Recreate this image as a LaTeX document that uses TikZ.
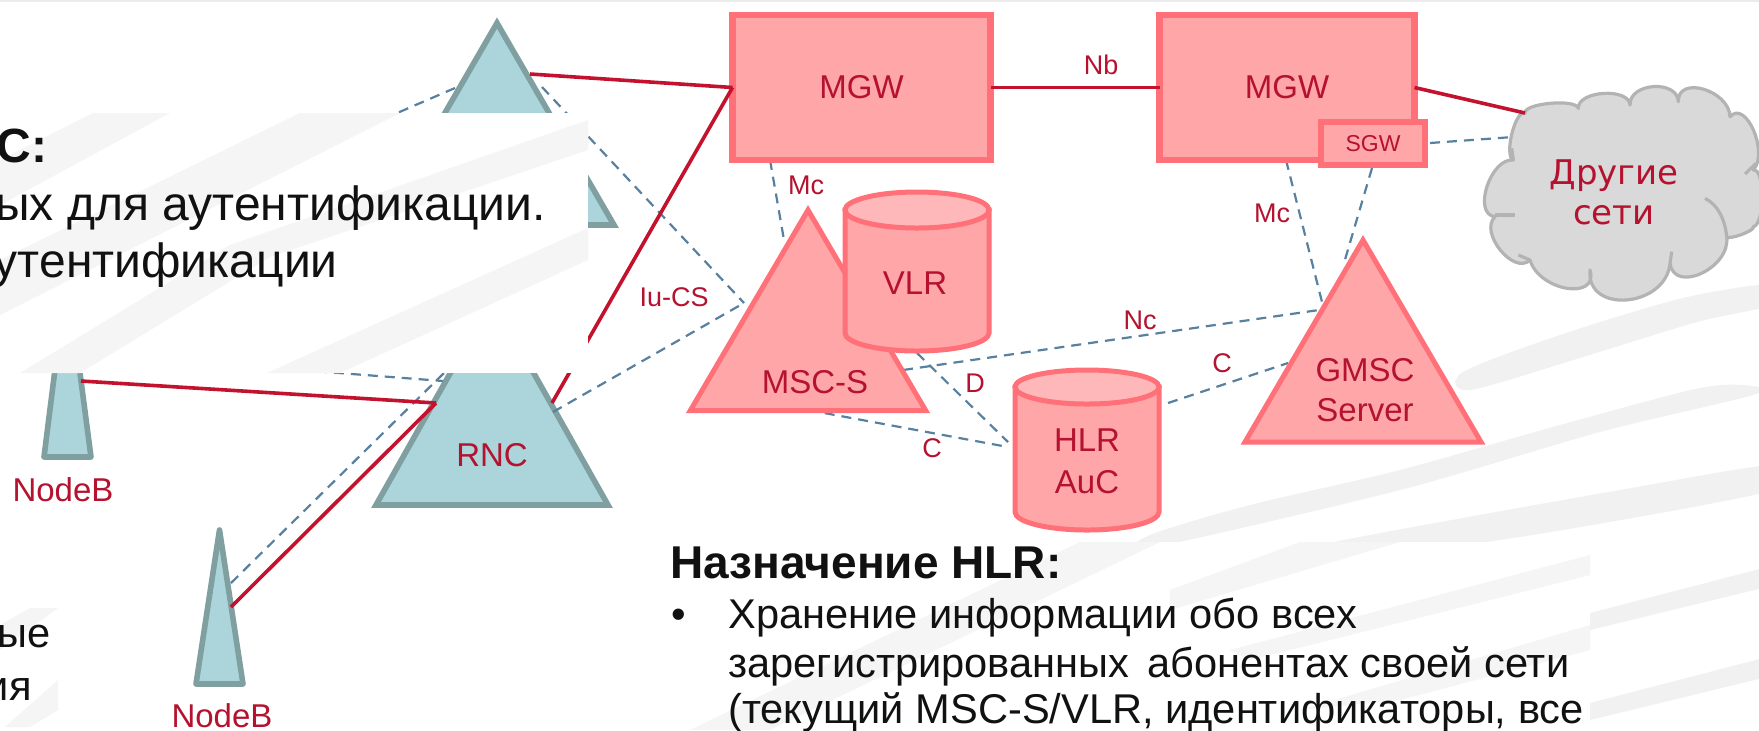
\documentclass[tikz,border=0pt]{standalone}
\usepackage{fontspec}
\setmainfont{Liberation Sans}
\newfontfamily\cloudfont{DejaVu Sans}
\definecolor{bandc}{HTML}{F1F1F1}
\definecolor{bandl}{HTML}{F5F5F5}
\definecolor{tealf}{HTML}{ABD5DB}
\definecolor{teald}{HTML}{7F9FA0}
\definecolor{pinkf}{HTML}{FFA6A8}
\definecolor{pinkt}{HTML}{FFB8B9}
\definecolor{pinkd}{HTML}{FF7078}
\definecolor{redl}{HTML}{C3122E}
\definecolor{dashc}{HTML}{58809F}
\definecolor{labc}{HTML}{B4122F}
\definecolor{cloudf}{HTML}{D9D9D9}
\definecolor{cloudd}{HTML}{B3B3B3}
\definecolor{txt}{HTML}{111111}
\tikzset{
  link/.style={draw=redl,line width=1.8pt},
  dlink/.style={draw=dashc,line width=1.1pt,dash pattern=on 5pt off 3.5pt},
  tealshape/.style={draw=teald,fill=tealf,line width=2.8pt},
  pinkshape/.style={draw=pinkd,fill=pinkf,line width=2.5pt},
  pinkbox/.style={rectangle,draw=pinkd,fill=pinkf,line width=3.3pt,inner sep=0pt,outer sep=0pt,text=labc,font=\fontsize{16.5}{20}\selectfont},
  biglab/.style={text=labc,font=\fontsize{16.5}{20}\selectfont,inner sep=0pt,align=center},
  smalllab/.style={text=labc,font=\fontsize{13.5}{16}\selectfont,inner sep=0pt},
  bodytxt/.style={text=txt,font=\fontsize{20.8}{25}\selectfont,inner sep=0pt,anchor=base west},
  sheettxt/.style={text=txt,font=\fontsize{24}{28}\selectfont,inner sep=0pt,anchor=base east},
  headtxt/.style={text=txt,font=\fontsize{23}{26}\bfseries\selectfont,inner sep=0pt,anchor=base west},
  band/.style={fill=bandc,draw=none},
  lband/.style={fill=bandl,draw=none},
  sheet/.style={fill=white,draw=none}
}
\begin{document}
\begin{tikzpicture}[x=0.5pt,y=-0.5pt]
\useasboundingbox (0,0) rectangle (1759,730);
\clip (0,0) rectangle (1759,730);
\fill[white] (0,0) rectangle (1759,730);
\fill[black!8] (0,0) rectangle (1759,2);
% background bands
\fill[band] plot[smooth cycle,tension=.5] coordinates {(1775,284) (1683,298) (1560,335) (1463,372) (1470,390) (1583,357) (1697,322) (1775,304)};
\fill[band] plot[smooth cycle,tension=.5] coordinates {(1753,386) (1700,388) (1560,425) (1400,470) (1250,505) (1150,535) (1150,548) (1400,490) (1600,432) (1753,395)};
\fill[band] plot[smooth cycle,tension=.5] coordinates {(1775,465) (1620,490) (1370,535) (1250,560) (1290,562) (1500,540) (1775,490)};
\fill[band] (1775,565) -- (1590,613) -- (1590,630) -- (1775,585) -- cycle;
\fill[band] (1775,655) -- (1590,703) -- (1590,720) -- (1775,675) -- cycle;
% connector ends
\coordinate (r1L) at (455,88);
\coordinate (r1Lx) at (300,155);
\coordinate (r1R) at (530,74);
\coordinate (r1D) at (542,87);
\coordinate (mscIu) at (744,303);
\coordinate (mscUp) at (784,240);
\coordinate (mgw1Mc) at (770,160);
\coordinate (r2R) at (552,403);
\coordinate (r2D) at (553,412);
\coordinate (r2L) at (436,403);
\coordinate (r2Lu) at (445,372);
\coordinate (r2Lw) at (443,381);
\coordinate (nbLr) at (81,381);
\coordinate (nbLx) at (300,370);
\coordinate (nbSr) at (231,607);
\coordinate (nbSd) at (231,583);
\coordinate (mgw2Mc) at (1286,160);
\coordinate (sgwD) at (1372,168);
\coordinate (gmUp) at (1344,263);
\coordinate (gmMc) at (1322,302);
\coordinate (gmNc) at (1319,310);
\coordinate (gmC) at (1288,363);
\coordinate (mscNc) at (903,370);
\coordinate (vlrD) at (917,353);
\coordinate (hlrD) at (1008,442);
\coordinate (hlrC) at (1008,447);
\coordinate (mscC) at (808,410);
\coordinate (hlrR) at (1168,403);
\coordinate (sgwR) at (1430,143);
\coordinate (clD) at (1513,137);
\coordinate (clS) at (1525,113);

% teal triangles
\path[tealshape] (497,23) -- (614,225) -- (380,225) -- cycle;
\path[tealshape] (492,299) -- (608,505) -- (376,505) -- cycle;
\path[tealshape,line join=round] (67,274) -- (91,457) -- (44,457) -- cycle;
\path[tealshape,line join=round] (219.5,530) -- (243,684) -- (196,684) -- cycle;

\draw[dlink] (r1L) -- (r1Lx);
\draw[dlink] (r1D) -- (mscIu);
\draw[dlink] (r2D) -- (mscIu);
\draw[dlink] (nbLx) -- (r2Lw);
\draw[dlink] (nbSd) -- (r2Lu);
\draw[dlink] (mgw1Mc) -- (mscUp);
\draw[dlink] (mgw2Mc) -- (gmMc);
\draw[dlink] (sgwD) -- (gmUp);
\draw[dlink] (mscNc) -- (gmNc);
\draw[dlink] (vlrD) -- (hlrD);
\draw[dlink] (mscC) -- (hlrC);
\draw[dlink] (hlrR) -- (gmC);
\draw[dlink] (sgwR) -- (clD);

\node[pinkbox,minimum width=129pt,minimum height=72.5pt] (mgwa) at (861.5,87.5) {MGW};
\node[pinkbox,minimum width=127.5pt,minimum height=72.5pt] (mgwb) at (1287,87.5) {MGW};
\draw[link] (r1R) -- (mgwa.west);
\draw[link] (r2R) -- (mgwa.west);
\draw[link] (mgwa.east) -- (mgwb.west);
\draw[link] (nbLr) -- (r2L);
\draw[link] (nbSr) -- (r2L);

% cloud, drawn in the coordinates of a 3x crop
\begin{scope}[shift={(1470,70)},x=0.16667pt,y=-0.16667pt]
\path[draw=cloudd,fill=cloudf,line width=1.6pt,line join=round]
 (165,130) .. controls (158,100) and (318,85) .. (325,115)
 .. controls (322,62) and (477,52) .. (480,105)
 .. controls (477,38) and (622,28) .. (625,95)
 .. controls (622,15) and (777,60) .. (780,140)
 .. controls (827,87) and (897,247) .. (850,300)
 .. controls (885,293) and (885,463) .. (850,470)
 .. controls (857,481) and (777,511) .. (770,500)
 .. controls (783,593) and (613,673) .. (600,580)
 .. controls (587,713) and (347,733) .. (360,600)
 .. controls (387,693) and (207,663) .. (180,570)
 .. controls (131,617) and (26,487) .. (75,440)
 .. controls (6,433) and (61,263) .. (130,270)
 .. controls (101,257) and (136,117) .. (165,130) -- cycle;
\draw[cloudd,line width=1.6pt] (705,385) .. controls (745,405) and (765,450) .. (770,500);
\draw[cloudd,line width=1.6pt] (75,435) -- (135,435);
\draw[cloudd,line width=1.6pt] (825,312) -- (858,280);
\draw[cloudd,line width=1.6pt] (180,570) -- (145,555);
\draw[cloudd,line width=1.6pt] (600,580) -- (605,545);
\draw[cloudd,line width=1.6pt] (130,270) -- (125,235);
\end{scope}
\node[inner sep=0pt,text=labc,align=center,font=\cloudfont\fontsize{17}{20}\selectfont] (net) at (1614,192) {Другие\\сети};
\draw[link] (mgwb.east) -- (clS);

\node[pinkbox,line width=3pt,minimum width=52pt,minimum height=21.5pt,font=\fontsize{11.5}{14}\selectfont] (sgw) at (1373,143.5) {SGW};

% pink triangles
\path[pinkshape] (808,210) -- (925.7,410.5) -- (690.3,410.5) -- cycle;
\path[pinkshape] (1363,240) -- (1481,442) -- (1245,442) -- cycle;
% VLR
\path[pinkshape] (845,210) -- (845,333) arc[x radius=72,y radius=18,start angle=180,end angle=0] -- (989,210) -- cycle;
\path[draw=pinkd,fill=pinkt,line width=2.5pt] (917,210) ellipse[x radius=72,y radius=18];
% HLR
\path[pinkshape] (1015,387) -- (1015,512) arc[x radius=72,y radius=18,start angle=180,end angle=0] -- (1159,387) -- cycle;
\path[draw=pinkd,fill=pinkt,line width=2.5pt] (1087,387) ellipse[x radius=72,y radius=17];

% labels
\node[biglab] (lmsc) at (815,382) {MSC-S};
\node[biglab] (lvlr) at (915,283) {VLR};
\node[biglab,font=\fontsize{16.5}{21}\selectfont] (lhlr) at (1087,461) {HLR\\AuC};
\node[biglab] (lgm) at (1365,390) {GMSC\\Server};
\node[biglab] (lrnc) at (492,455) {RNC};
\node[biglab] (lnb1) at (63,490) {NodeB};
\node[biglab,anchor=base] (lnb2) at (222,727) {NodeB};
\node[smalllab] (lnb) at (1101,65) {Nb};
\node[smalllab] (lmc1) at (806,185) {Mc};
\node[smalllab] (lmc2) at (1272,213) {Mc};
\node[smalllab] (liu) at (674,297) {Iu-CS};
\node[smalllab] (lnc) at (1140,320) {Nc};
\node[smalllab] (lc1) at (1222,363) {C};
\node[smalllab] (lc2) at (932,448) {C};
\node[smalllab] (ld) at (975,383) {D};

% pasted text sheet, upper left
\fill[sheet] (0,113) rectangle (588,373);
\fill[lband] (170,113) -- (93,113) -- (0,160) -- (0,205) -- cycle;
\fill[lband] (400,113) -- (300,113) -- (0,260) -- (0,315) -- cycle;
\fill[lband] (588,120) -- (588,150) -- (270,257) -- (80,373) -- (20,373) -- (230,245) -- cycle;
\fill[lband] (588,228) -- (588,260) -- (340,373) -- (267,373) -- cycle;
\node[headtxt,anchor=base east,font=\fontsize{24}{28}\bfseries\selectfont] (t1a) at (48,162) {С:};
\node[sheettxt] (t1b) at (546,220) {ных для аутентификации.};
\node[sheettxt] (t1c) at (338,277) {аутентификации};

% sheet lower left
\fill[sheet] (0,608) rectangle (58,727);
\fill[lband] (58,608) -- (30,608) -- (0,625) -- (0,650) -- cycle;
\fill[lband] (58,680) -- (58,710) -- (30,727) -- (5,727) -- cycle;
\node[bodytxt,anchor=base east] (t2a) at (51,647) {ые};
\node[bodytxt,anchor=base east] (t2b) at (32,700) {ия};

% sheet HLR
\fill[sheet] (658,542) rectangle (1590,730);
\fill[lband] (1160,542) -- (1080,542) -- (690,730) -- (770,730) -- cycle;
\fill[lband] (1590,555) -- (1590,575) -- (1370,630) -- (1250,660) -- (1230,650) -- cycle;
\fill[lband] (1590,625) -- (1590,650) -- (1400,700) -- (1300,710) -- cycle;
\fill[lband] (1400,542) -- (1300,542) -- (1170,590) -- (1170,610) -- cycle;
\node[headtxt] (h0) at (670,578) {Назначение HLR:};
\node[bodytxt] (hb) at (671,628) {•};
\node[bodytxt] (h1) at (728,628) {Хранение информации обо всех};
\node[bodytxt] (h2) at (728,677) {зарегистрированных\, абонентах своей сети};
\node[bodytxt] (h3) at (728,723) {(текущий MSC-S/VLR, идентификаторы, все};
\end{tikzpicture}
\end{document}
